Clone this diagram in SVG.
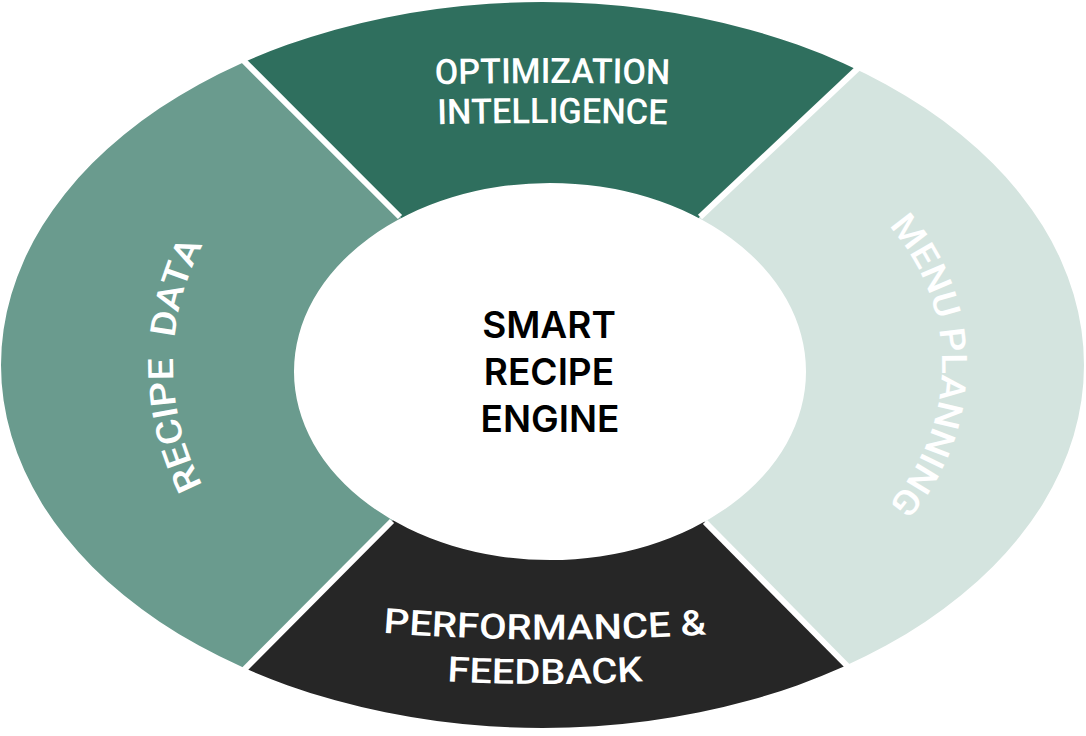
<svg xmlns="http://www.w3.org/2000/svg" xmlns:xlink="http://www.w3.org/1999/xlink" width="1086" height="736" viewBox="0 0 1086 736">
<style>
.lbl{font-family:Roboto,"Liberation Sans",sans-serif;font-weight:500;font-size:35px;fill:#ffffff;}
.ctr{font-family:Inter,"Liberation Sans",sans-serif;font-weight:600;font-size:37px;fill:#000000;text-anchor:middle;}
.div{stroke:#ffffff;stroke-width:6;stroke-linecap:butt;fill:none;}
</style>
<defs>
<clipPath id="ring">
<path clip-rule="evenodd" d="M 1 365 A 541.5 363 0 1 0 1084 365 A 541.5 363 0 1 0 1 365 Z M 294 371.5 A 256 188.5 0 1 0 806 371.5 A 256 188.5 0 1 0 294 371.5 Z"/>
</clipPath>
<path id="pTop1" d="M 380 86 Q 552 80 725 86"/>
<path id="pTop2" d="M 380 126 Q 552 120 725 126"/>
<path id="pBot1" d="M 340 629 Q 545 649 750 631"/>
<path id="pBot2" d="M 400 678 Q 545 690 690 678"/>
<path id="pLeft" d="M 248.6 547.4 A 258 258 0 0 1 248.6 182.6"/>
<path id="pRight" d="M 838 184.9 A 208 208 0 0 1 838 545.1"/>
</defs>
<rect x="0" y="0" width="1086" height="736" fill="#ffffff"/>
<g id="optimization-intelligence">
<polygon clip-path="url(#ring)" fill="#2F6F5E" points="550,370 400,217 145,-38 965,-33 700,217"/>
<text class="lbl"><textPath href="#pTop1" xlink:href="#pTop1" startOffset="50%" text-anchor="middle" textLength="235" lengthAdjust="spacingAndGlyphs">OPTIMIZATION</textPath></text>
<text class="lbl"><textPath href="#pTop2" xlink:href="#pTop2" startOffset="50%" text-anchor="middle" textLength="230" lengthAdjust="spacingAndGlyphs">INTELLIGENCE</textPath></text>
</g>
<g id="recipe-data">
<polygon clip-path="url(#ring)" fill="#6A9B8E" points="550,370 392,521 141,774 -50,774 -50,-38 145,-38 400,217"/>
<text class="lbl" style="white-space:pre"><textPath href="#pLeft" xlink:href="#pLeft" startOffset="50%" text-anchor="middle" textLength="250" lengthAdjust="spacingAndGlyphs">RECIPE  DATA</textPath></text>
</g>
<g id="menu-planning">
<polygon clip-path="url(#ring)" fill="#D4E4DF" points="550,370 700,217 965,-33 1136,-33 1136,772 951,772 705,522"/>
<text class="lbl"><textPath href="#pRight" xlink:href="#pRight" startOffset="50%" text-anchor="middle" textLength="305" lengthAdjust="spacingAndGlyphs">MENU PLANNING</textPath></text>
</g>
<g id="performance-feedback">
<polygon clip-path="url(#ring)" fill="#262626" points="550,370 705,522 951,772 141,774 392,521"/>
<text class="lbl"><textPath href="#pBot1" xlink:href="#pBot1" startOffset="50%" text-anchor="middle" textLength="324" lengthAdjust="spacingAndGlyphs">PERFORMANCE &amp;</textPath></text>
<text class="lbl"><textPath href="#pBot2" xlink:href="#pBot2" startOffset="50%" text-anchor="middle" textLength="196" lengthAdjust="spacingAndGlyphs">FEEDBACK</textPath></text>
</g>
<g id="dividers">
<line class="div" x1="400" y1="217" x2="232" y2="49"/>
<line class="div" x1="700" y1="217" x2="872" y2="55"/>
<line class="div" x1="392" y1="521" x2="229" y2="685"/>
<line class="div" x1="705" y1="522" x2="865" y2="684"/>
</g>
<g id="smart-recipe-engine">
<text class="ctr" x="549" y="338">SMART</text>
<text class="ctr" x="549" y="385">RECIPE</text>
<text class="ctr" x="550" y="432">ENGINE</text>
</g>
</svg>
